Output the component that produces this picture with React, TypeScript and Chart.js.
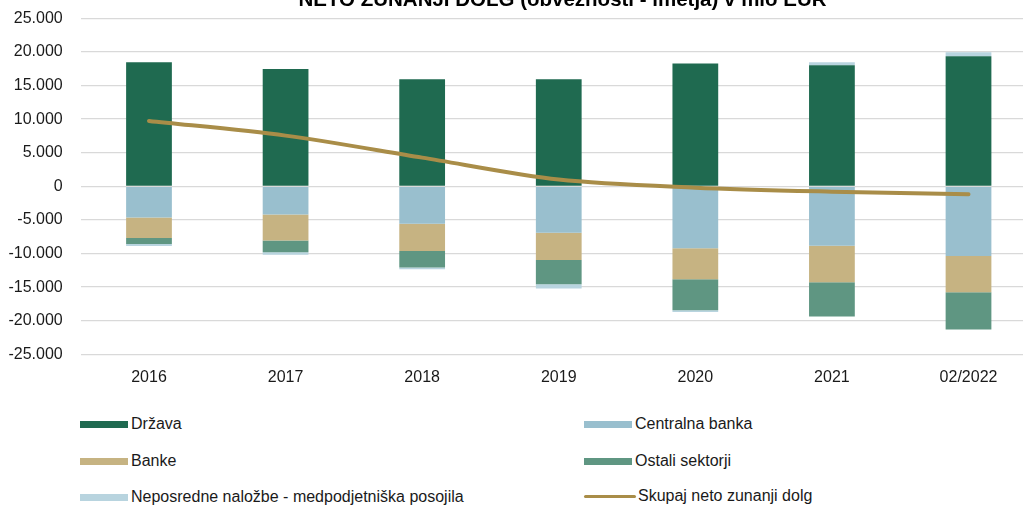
import React, { useEffect, useRef } from "react";
import { Chart, registerables } from "chart.js";

Chart.register(...registerables);

const TITLE = "NETO ZUNANJI DOLG (obveznosti - imetja) v mio EUR";
const categories = ["2016", "2017", "2018", "2019", "2020", "2021", "02/2022"];

const drzava = [18450, 17460, 15920, 15920, 18260, 18000, 19350];
const centralnaBanka = [-4660, -4210, -5560, -6900, -9230, -8830, -10370];
const banke = [-3030, -3870, -4060, -4070, -4610, -5460, -5400];
const ostaliSektorji = [-890, -1740, -2480, -3610, -4610, -5100, -5550];
const neposredne = [-300, -350, -250, -640, -250, 450, 600];
const skupaj = [9720, 7540, 4270, 1000, -200, -800, -1190];

const yMin = -25000;
const yMax = 25000;
const yStep = 5000;

const COLORS = {
  drzava: "#1F6A50",
  centralna: "#99BFCE",
  banke: "#C6B382",
  ostali: "#5F9682",
  neposredne: "#B8D4DF",
  skupaj: "#A98D48",
};

const FONT = '"Liberation Sans", Arial, sans-serif';

function fmt(v: number): string {
  const neg = v < 0;
  const s = Math.abs(Math.round(v)).toString().replace(/\B(?=(\d{3})+(?!\d))/g, ".");
  return (neg ? "-" : "") + s;
}

const legendItems = [
  { label: "Država", color: COLORS.drzava, type: "box", col: 0, row: 0 },
  { label: "Centralna banka", color: COLORS.centralna, type: "box", col: 1, row: 0 },
  { label: "Banke", color: COLORS.banke, type: "box", col: 0, row: 1 },
  { label: "Ostali sektorji", color: COLORS.ostali, type: "box", col: 1, row: 1 },
  { label: "Neposredne naložbe - medpodjetniška posojila", color: COLORS.neposredne, type: "box", col: 0, row: 2 },
  { label: "Skupaj neto zunanji dolg", color: COLORS.skupaj, type: "line", col: 1, row: 2 },
];

export default function App() {
  const ref = useRef<HTMLCanvasElement | null>(null);

  useEffect(() => {
    if (!ref.current) return;
    const titlePlugin = {
      id: "cutTitle",
      afterDraw(chart: any) {
        const ctx = chart.ctx;
        ctx.save();
        ctx.font = `bold 20.5px ${FONT}`;
        ctx.fillStyle = "#000";
        ctx.textAlign = "center";
        ctx.textBaseline = "alphabetic";
        ctx.fillText(TITLE, 562.5, 5.5);
        ctx.restore();
      },
    };
    const barCommon = {
      type: "bar" as const,
      stack: "bars",
      order: 1,
      barPercentage: 0.335,
      categoryPercentage: 1,
      borderWidth: 0,
    };
    const chart = new Chart(ref.current, {
      type: "bar",
      data: {
        labels: categories,
        datasets: [
          { ...barCommon, label: "Država", data: drzava, backgroundColor: COLORS.drzava },
          { ...barCommon, label: "Centralna banka", data: centralnaBanka, backgroundColor: COLORS.centralna },
          { ...barCommon, label: "Banke", data: banke, backgroundColor: COLORS.banke },
          { ...barCommon, label: "Ostali sektorji", data: ostaliSektorji, backgroundColor: COLORS.ostali },
          { ...barCommon, label: "Neposredne naložbe - medpodjetniška posojila", data: neposredne, backgroundColor: COLORS.neposredne },
          {
            type: "line" as const,
            label: "Skupaj neto zunanji dolg",
            data: skupaj,
            stack: "line",
            order: 0,
            borderColor: COLORS.skupaj,
            backgroundColor: COLORS.skupaj,
            borderWidth: 4,
            borderCapStyle: "round",
            tension: 0.3,
            pointRadius: 0,
            fill: false,
          } as any,
        ],
      },
      options: {
        responsive: false,
        animation: false,
        devicePixelRatio: 1,
        layout: { padding: { left: 0, right: 8.2, top: 18.3, bottom: 5.7 } },
        plugins: {
          legend: { display: false },
          title: { display: false },
          tooltip: { enabled: false },
        },
        scales: {
          x: {
            stacked: true,
            grid: { display: false, drawTicks: false },
            border: { display: false },
            ticks: { color: "#1a1a1a", font: { family: FONT, size: 16 }, padding: 14, maxRotation: 0 },
            afterFit: (axis: any) => {
              axis.height = 30;
              axis.paddingLeft = 0;
              axis.paddingRight = 0;
            },
          },
          y: {
            stacked: true,
            min: yMin,
            max: yMax,
            grid: { color: "#D9D9D9", lineWidth: 1.3, drawTicks: false },
            border: { display: false },
            ticks: {
              stepSize: yStep,
              color: "#1a1a1a",
              font: { family: FONT, size: 16 },
              padding: 18,
              callback: (v: any) => fmt(Number(v)),
            },
            afterFit: (axis: any) => {
              axis.width = 80.7;
              axis.paddingTop = 0;
              axis.paddingBottom = 0;
            },
          },
        },
      },
      plugins: [titlePlugin],
    } as any);
    return () => chart.destroy();
  }, []);

  const colX = [80, 584];
  const rowY = [424, 461, 497];

  return (
    <div style={{ position: "fixed", left: 0, top: 0, width: 1045, height: 505, background: "#fff", overflow: "hidden" }}>
      <canvas ref={ref} width={1045} height={390} style={{ position: "absolute", left: 0, top: 0, width: 1045, height: 390 }} />
      {legendItems.map((it) => (
        <div
          key={it.label}
          style={{
            position: "absolute",
            left: colX[it.col],
            top: rowY[it.row] - 10 - (it.type === "line" ? 1 : 0),
            height: 20,
            display: "flex",
            alignItems: "center",
            fontFamily: FONT,
            fontSize: 16,
            color: "#1a1a1a",
            whiteSpace: "nowrap",
          }}
        >
          {it.type === "box" ? (
            <span style={{ display: "inline-block", width: 48, height: 7, background: it.color, marginRight: 3 }} />
          ) : (
            <span style={{ display: "inline-block", width: 52, height: 3, borderRadius: 2, background: it.color, marginRight: 2 }} />
          )}
          <span>{it.label}</span>
        </div>
      ))}
    </div>
  );
}
